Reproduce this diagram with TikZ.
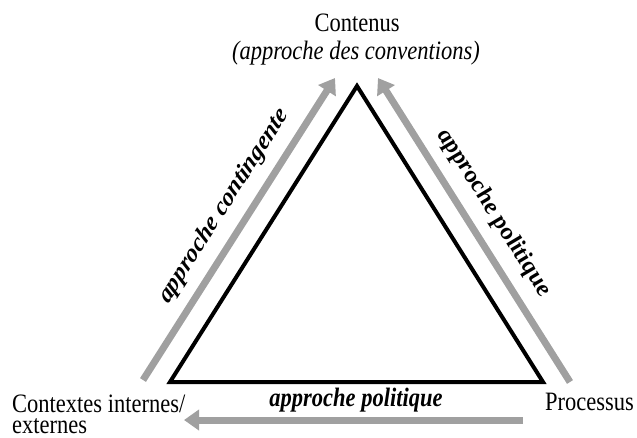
\documentclass[tikz,border=0pt]{standalone}
\usepackage{fontspec}
\setmainfont{Liberation Serif}
\usetikzlibrary{arrows.meta}
\definecolor{arrowgray}{RGB}{160,160,160}
\begin{document}
\begin{tikzpicture}[x=1pt,y=-1pt,
  lbl/.style={font=\fontsize{22.5}{25}\selectfont, inner sep=0pt},
  slbl/.style={font=\fontsize{22.5}{25}\selectfont\bfseries\itshape, inner sep=0pt},
  side/.style={line width=4pt, line join=miter},
  flow/.style={draw=arrowgray, line width=7pt, -{Triangle[width=20pt,length=15pt]}}
]
\useasboundingbox (0,0) rectangle (637,437);
% triangle
\coordinate (A) at (357,86);
\coordinate (B) at (170,382);
\coordinate (C) at (543,382);
\draw[side] (A) -- (B) -- (C) -- cycle;
% grey arrows
\coordinate (l0) at (143,380);
\coordinate (l1) at (335,78);
\coordinate (r0) at (570,382);
\coordinate (r1) at (378,78);
\coordinate (b0) at (523,420);
\coordinate (b1) at (184,420);
\draw[flow] (l0) -- (l1);
\draw[flow] (r0) -- (r1);
\draw[flow] (b0) -- (b1);
% texts (the reference is stretched vertically)
\begin{scope}[yscale=1.18, transform shape]
\node[lbl, anchor=base] (contenus) at (357,27.1) {Contenus};
\node[lbl, anchor=base, font=\fontsize{22.5}{25}\selectfont\itshape] (conv) at (356,50.8) {(approche des conventions)};
\node[lbl, anchor=base west] (ctx) at (12,349.2) {Contextes internes/};
\node[lbl, anchor=base west] (ext) at (12,367.5) {externes};
\node[lbl, anchor=base west] (proc) at (545,347.5) {Processus};
\node[slbl, rotate=53.2] (lc) at (224,174.6) {approche contingente};
\node[slbl, rotate=-53.2] (lp) at (494,180.5) {approche politique};
\node[slbl, anchor=base] (bp) at (356,344.9) {approche politique};
\end{scope}
\end{tikzpicture}
\end{document}
